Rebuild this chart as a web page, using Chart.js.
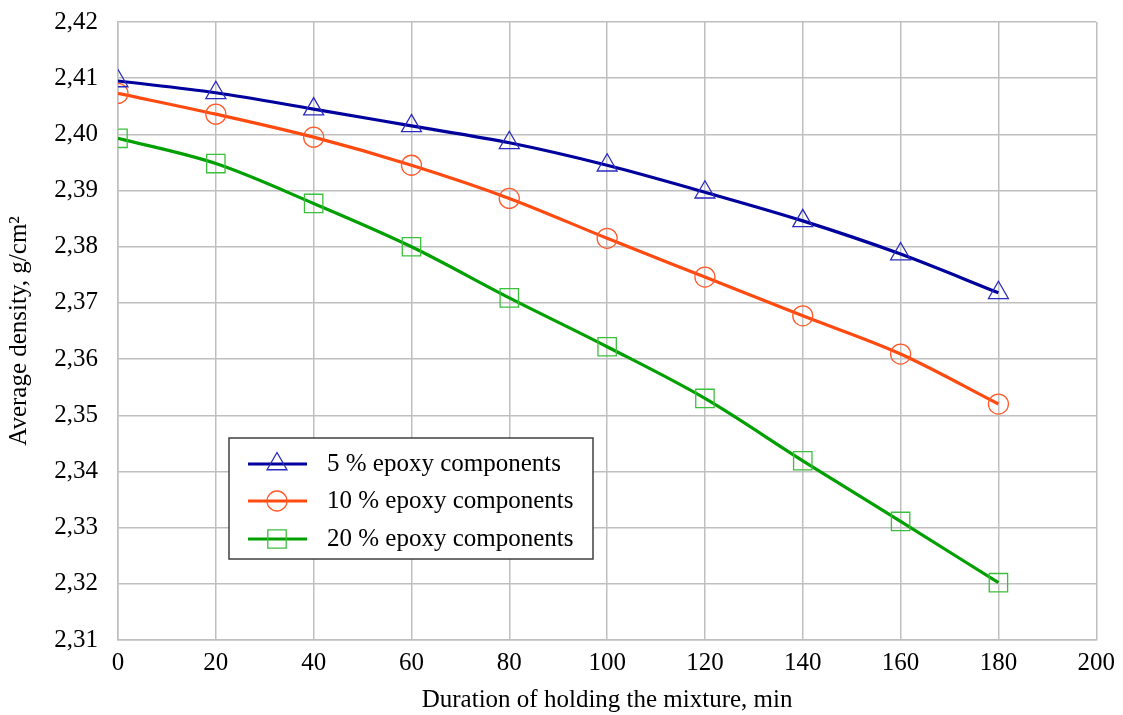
<!DOCTYPE html>
<html lang="en">
<head>
    <meta charset="UTF-8">
    <title>Average density vs holding time</title>
    <script src="https://cdn.jsdelivr.net/npm/chart.js"></script>
    <style>
        html, body { margin: 0; padding: 0; background: #ffffff; overflow: hidden; }
        /* shifted up a bit so the plot top lines up with the original */
        .chart-container { position: relative; width: 1123px; height: 728px; margin-top: -13px; }
    </style>
</head>
<body>
    <div class="chart-container">
        <canvas id="densityChart"></canvas>
    </div>

    <script>
        // data
        const minutes = [0, 20, 40, 60, 80, 100, 120, 140, 160, 180];
        const epoxy5 = [2.4095, 2.4074, 2.4045, 2.4015, 2.3985, 2.3945, 2.3897, 2.3846, 2.3787, 2.3718];
        const epoxy10 = [2.4073, 2.4036, 2.3995, 2.3945, 2.3886, 2.3815, 2.3746, 2.3677, 2.3609, 2.3520];
        const epoxy20 = [2.3993, 2.3948, 2.3877, 2.3800, 2.3709, 2.3622, 2.3530, 2.3419, 2.3311, 2.3202];
        const seriesLabels = ['5 % epoxy components', '10 % epoxy components', '20 % epoxy components'];

        const serif = '"Liberation Serif", "Times New Roman", serif';
        const fontSize = 25;

        function toPoints(values) {
            return minutes.map((m, i) => ({ x: m, y: values[i] }));
        }

        // marker sizes differ per shape so they look the same size
        const markerRadius = { triangle: 11.5, circle: 10, rect: 13 };

        function makeSet(label, values, lineColor, markColor, style) {
            return {
                label: label,
                data: toPoints(values),
                borderColor: lineColor,
                backgroundColor: 'rgba(0,0,0,0)',
                borderWidth: 3.2,
                pointStyle: style,
                pointRadius: markerRadius[style],
                pointBorderWidth: 1.3,
                pointBorderColor: markColor,
                pointBackgroundColor: 'rgba(0,0,0,0)',
                cubicInterpolationMode: 'monotone',
                fill: false
            };
        }

        // legend box drawn inside the plot, like the original
        const boxLegend = {
            id: 'boxLegend',
            afterDraw(chart) {
                const ctx = chart.ctx;
                const off = 13; // canvas is shifted up by this much
                const x = 229, y = 438 + off, w = 364, h = 121;
                ctx.save();
                ctx.fillStyle = '#ffffff';
                ctx.fillRect(x, y, w, h);
                ctx.strokeStyle = '#404040';
                ctx.lineWidth = 1.5;
                ctx.strokeRect(x, y, w, h);
                const rows = [464, 501, 539];
                chart.data.datasets.forEach((ds, i) => {
                    const cy = rows[i] + off;
                    ctx.strokeStyle = ds.borderColor;
                    ctx.lineWidth = 3.2;
                    ctx.beginPath();
                    ctx.moveTo(248, cy);
                    ctx.lineTo(307, cy);
                    ctx.stroke();
                    ctx.lineWidth = 1.3;
                    ctx.strokeStyle = ds.pointBorderColor;
                    ctx.fillStyle = 'rgba(0,0,0,0)';
                    Chart.helpers.drawPoint(ctx, { pointStyle: ds.pointStyle, radius: ds.pointRadius, borderWidth: 1.3 }, 277, cy);
                    ctx.fillStyle = '#000000';
                    ctx.font = fontSize + 'px ' + serif;
                    ctx.textBaseline = 'middle';
                    ctx.fillText(ds.label, 327, cy);
                });
                ctx.restore();
            }
        };

        const ds5 = makeSet(seriesLabels[0], epoxy5, '#00009c', '#2b2bbf', 'triangle');
        const ds10 = makeSet(seriesLabels[1], epoxy10, '#ff4a10', '#ff5a2b', 'circle');
        const ds20 = makeSet(seriesLabels[2], epoxy20, '#00a000', '#3cc03c', 'rect');

        new Chart(document.getElementById('densityChart'), {
            type: 'line',
            data: { datasets: [ds5, ds10, ds20] },
            options: {
                responsive: true,
                maintainAspectRatio: false,
                animation: false,
                layout: { padding: { top: 10, right: 26, left: 0, bottom: 0 } },
                plugins: {
                    legend: { display: false },
                    tooltip: { enabled: false }
                },
                scales: {
                    x: {
                        type: 'linear',
                        min: 0,
                        max: 200,
                        ticks: {
                            stepSize: 20,
                            color: '#000000',
                            font: { family: serif, size: fontSize },
                            padding: 8
                        },
                        grid: { color: '#bfbfbf', lineWidth: 1.5, drawTicks: false },
                        border: { color: '#bfbfbf', width: 1.5 },
                        title: {
                            display: true,
                            text: 'Duration of holding the mixture, min',
                            color: '#000000',
                            font: { family: serif, size: fontSize },
                            padding: { top: 4, bottom: 0 }
                        },
                        afterFit(scale) { scale.height = 75; }
                    },
                    y: {
                        min: 2.31,
                        max: 2.42,
                        ticks: {
                            stepSize: 0.01,
                            color: '#000000',
                            font: { family: serif, size: fontSize },
                            padding: 20,
                            callback: v => v.toFixed(2).replace('.', ',')
                        },
                        grid: { color: '#bfbfbf', lineWidth: 1.5, drawTicks: false },
                        border: { color: '#bfbfbf', width: 1.5 },
                        title: {
                            display: true,
                            text: 'Average density, g/cm²',
                            color: '#000000',
                            font: { family: serif, size: fontSize },
                            padding: { top: 4, bottom: 0 }
                        },
                        afterFit(scale) { scale.width = 118; }
                    }
                }
            },
            plugins: [boxLegend]
        });
    </script>
</body>
</html>
